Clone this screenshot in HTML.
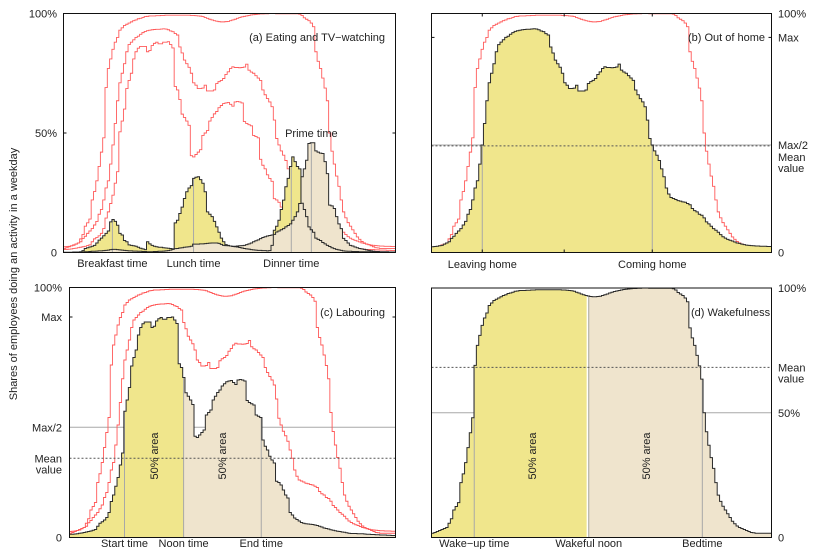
<!DOCTYPE html>
<html lang="en">
<head>
<meta charset="utf-8">
<title>Shares of employees doing an activity in a weekday</title>
<style>
html,body{margin:0;padding:0;background:#fff;}
#chart{display:block;width:830px;height:549px;}
text{font-family:"Liberation Sans",sans-serif;font-size:11px;fill:#222;}
</style>
</head>
<body>
<svg id="chart" xmlns="http://www.w3.org/2000/svg" width="830" height="549" viewBox="0 0 830 549">
<text transform="translate(17,274) rotate(-90)" text-anchor="middle">Shares of employees doing an activity in a weekday</text>
</svg>
<script>
// Ten-minute bins over the day, shares of employees in percent
const wake = [
1.7,2,2.4,2.8,3.2,3.6,4,5.7,7.5,11,
12.4,14,22,25.5,30,36,42,48,69,77,
81,85,88,90,93,94,95,95.5,96,96.5,
97,97.3,97.8,98,98.3,98.7,98.8,99,99,99,
99.1,99.1,99.2,99.2,99.3,99.3,99.3,99.3,99.3,99.3,
99.3,99.3,99.3,99.3,99.3,99.2,99.2,99.1,99,98.9,
98.7,98.3,98,97.6,97.3,97,96.8,96.6,96.5,96.5,
96.6,96.7,97,97.3,97.6,98,98.3,98.6,98.8,99,
99.2,99.4,99.5,99.6,99.7,99.8,99.8,99.9,99.9,100,
100,100,99.9,99.9,99.9,99.9,99.9,99.9,99.9,99.9,
99.9,99.9,99.7,99.2,98.2,97.6,97,96,94.5,84,
80,77,73,68.8,63.5,50,42.4,37,32,27.7,
22,17,14.5,12.5,11,9.5,8,6.5,5.5,4.6,
4,3.6,3.2,2.8,2.4,2,1.9,1.7,1.7,1.7,
1.7,1.7,1.7,1.7];
const outOfHome = [
2.4,2.5,2.6,2.8,3,3.5,4,4.5,5.9,6.8,
8,9,10,11.5,13,16,18,22,27,30,
37,45,54,63.5,71,75,79,84,87,88,
89,90,90.5,91.3,92,92.5,92.8,93,93.2,93.3,
93.4,93.4,93.5,93.6,93.5,93.2,92.7,92.4,91.6,91,
86,83.5,80.5,79,77.5,75,71,70,68.6,68.6,
68.8,70,67.6,67.6,67.6,68,70.7,71.5,72,72.8,
74.5,75.6,77,77.7,77.4,77.4,77.3,77.4,77.6,78.8,
76.3,75.5,75,74,73,72,68,66,64.4,63,
61,55.4,47.7,45,42.5,40.7,38.5,35,31.7,27,
24.5,23,22.6,22.2,21.7,21.5,21.2,21,20.5,20,
18.4,17.5,17,16,15.6,14.5,12.8,12,11,10,
9.3,8.5,7.5,6.6,6,5.5,5.1,4.8,4.4,4,
3.8,3.5,3.3,3.1,3,2.9,2.8,2.7,2.7,2.6,
2.6,2.6,2.5,2.5];
const labour = [
1.3,1.3,1.4,1.5,1.7,1.8,2,2.2,2.4,2.6,
2.9,3.2,4.5,5.7,6.3,7,8,10,14.4,17,
20.5,24,29,33.8,50.5,55,60,68.6,72,75,
81,84,85.5,86.2,86.2,86.2,84,84.5,86.6,87.5,
88,87.3,87.3,88,88,88.2,87,85.6,69.5,68,
64,57.9,56.5,55,53.2,40.5,40,41,42,43,
49,50,51,55,56.5,58,59,60.6,61.5,62.3,
62.6,62.8,62,61.2,63,63.2,63,62.6,54.8,54,
53.5,53,49,48.5,48,39,36.5,35,32.5,31,
29.8,22.5,22,21,19,17,15.8,10,9,7.8,
7.2,6.6,6,5.7,5.5,5.4,5.3,5.2,5,4.8,
4.5,4.2,3.8,3.6,3.4,3.1,2.9,2.7,2.5,2.4,
2.2,2.1,1.9,1.7,1.6,1.6,1.6,1.5,1.5,1.5,
1.4,1.3,1.3,1.2,1.2,1.1,1.1,1,1,1,
0.9,0.9,0.8,0.8];
const eating = [
0.1,0.1,0.1,0.1,0.2,0.2,0.2,0.3,0.8,1.7,
2,2.3,2.6,3,4,5.2,6,7,8,9,
12.8,13.8,13,11.4,8,7.3,5,4.5,3.2,3,
2.8,2.6,2.2,1.8,1.5,1.2,4.5,3.6,3,2.6,
2.4,2.2,2.2,2,1.9,1.8,1.7,1.5,12.4,13.5,
16.3,19,22.6,25.4,27,28,31,31.5,31.7,30.5,
29,25.4,17,16,15,13,10.7,8.5,6,4.5,
3.3,3,2.7,2.5,2.4,2.3,2.1,1.9,1.7,1.5,
1.4,1.2,1.1,1,0.9,0.9,0.8,0.8,0.7,0.8,
3,9.3,11,13.5,18,21.9,27.5,31,36,40,
38,36,35,20.6,18,15,10.7,9.5,8.5,6,
5.5,5,4.2,3.6,3,2.5,2,1.6,1.3,1.1,
0.9,0.7,0.6,0.5,0.5,0.4,0.4,0.4,0.3,0.3,
0.3,0.3,0.3,0.2,0.2,0.2,0.2,0.2,0.2,0.2,
0.2,0.2,0.2,0.2];
const television = [
0,0,0,0,0,0,0,0.2,0.2,0.3,
0.3,0.4,0.5,0.5,0.6,0.7,0.7,0.8,0.9,1,
1.2,1.3,1.3,1.2,1.1,1,0.9,0.8,0.7,0.7,
0.6,0.6,0.5,0.5,0.4,0.4,0.3,0.3,0.3,0.4,
0.4,0.5,0.5,0.6,0.7,0.8,1,1.3,1.6,1.7,
1.9,2,2.2,2.3,2.4,2.6,3.5,3.5,3.5,3.6,
3.6,3.7,3.8,3.9,4,4,4,3.8,3.4,3,
2.9,2.8,2.7,2.6,2.6,2.7,2.8,2.9,3,3.3,
3.6,4,4.5,4.9,5.3,5.8,6.3,6.6,6.9,7.1,
7.3,7.6,8.6,9,9.5,10,10.7,11.3,12,13.5,
15,17,20.5,31.7,35,38.6,45.6,45.9,45.9,42.5,
42,41.6,41.4,38,33,19.8,19.5,18.4,15,12,
10,5.9,5,4,3,2.7,2.3,2,1.7,1.5,
1.3,1.1,0.9,0.7,0.5,0.4,0.4,0.3,0.3,0.3,
0.3,0.2,0.2,0.2];

// Marker times (bin index) and reference levels (percent)
const mealBins = [21.2, 56.4, 98.8];
const mealLabels = ['Breakfast time', 'Lunch time', 'Dinner time'];
const primeBin = [107.5];
const homeBins = [21.5, 93.5];
const homeMidBin = [56.2];
const homeLabels = ['Leaving home', 'Coming home'];
const labourBins = [24.3, 50.4, 84.7];
const labourLabels = ['Start time', 'Noon time', 'End time'];
const wakeBins = [18.1, 66.6, 114.7];
const wakeLabels = ['Wake\u2212up time', 'Wakeful noon', 'Bedtime'];
const homeLevels = [90, 45, 44.6];
const labourLevels = [88.2, 44.1, 31.7];
const wakeLevels = [50, 68.2];
const ticksA = [0, 50, 100];
const ticksALabels = ['0', '50%', '100%'];
const ticksB = [0, 45, 90, 100];
const ticksBLabels = ['0', 'Max/2', 'Max', '100%'];
const ticksC = [0, 44.1, 88.2, 100];
const ticksCLabels = ['0', 'Max/2', 'Max', '100%'];
const ticksD = [0, 50, 100];
const ticksDLabels = ['0', '50%', '100%'];

const svg = document.getElementById('chart');
const NS = 'http://www.w3.org/2000/svg';
const BINS = 144;
const YELLOW = '#f0e68c', BEIGE = '#efe4cd', RED = '#ff5a5a', DARK = '#2a2a2a', GRAY = '#a8a8a8';

function panel(left, right, top, bottom) {
  return {
    left: left, right: right, top: top, bottom: bottom,
    x: function (bin) { return left + (right - left) * bin / BINS; },
    y: function (v) { return bottom - (bottom - top) * v / 100; }
  };
}
function stepLine(p, values, from, to) {
  let d = '';
  for (let i = from; i < to; i++) {
    d += (i === from ? 'M' : 'L') + p.x(i).toFixed(2) + ' ' + p.y(values[i]).toFixed(2);
    d += 'L' + p.x(i + 1).toFixed(2) + ' ' + p.y(values[i]).toFixed(2);
  }
  return d;
}
function drawCurve(p, values, name, color, width) {
  const el = document.createElementNS(NS, 'path');
  
  
  el.setAttribute('d', stepLine(p, values, 0, BINS));
  el.setAttribute('fill', 'none');
  el.setAttribute('stroke', color);
  el.setAttribute('stroke-width', width);
  svg.appendChild(el);
}
function drawArea(p, values, fromBin, toBin, name, color) {
  const start = Math.floor(fromBin), end = Math.ceil(toBin);
  let d = 'M' + p.x(fromBin).toFixed(2) + ' ' + p.bottom;
  for (let i = start; i < end; i++) {
    const a = Math.max(i, fromBin), b = Math.min(i + 1, toBin);
    d += 'L' + p.x(a).toFixed(2) + ' ' + p.y(values[i]).toFixed(2);
    d += 'L' + p.x(b).toFixed(2) + ' ' + p.y(values[i]).toFixed(2);
  }
  d += 'L' + p.x(toBin).toFixed(2) + ' ' + p.bottom + 'Z';
  const el = document.createElementNS(NS, 'path');
  
  
  el.setAttribute('d', d);
  el.setAttribute('fill', color);
  svg.appendChild(el);
}
function drawLine(x1, y1, x2, y2, name, color, width, dash) {
  const el = document.createElementNS(NS, 'line');
  
  
  el.setAttribute('x1', x1);
  el.setAttribute('y1', y1);
  el.setAttribute('x2', x2);
  el.setAttribute('y2', y2);
  el.setAttribute('stroke', color);
  el.setAttribute('stroke-width', width);
  if (dash) el.setAttribute('stroke-dasharray', dash);
  svg.appendChild(el);
}
function drawText(x, y, str, name, anchor, rotate) {
  const el = document.createElementNS(NS, 'text');
  
  
  if (rotate) {
    el.setAttribute('transform', 'translate(' + x + ',' + y + ') rotate(-90)');
  } else {
    el.setAttribute('x', x);
    el.setAttribute('y', y);
  }
  el.setAttribute('text-anchor', anchor);
  el.textContent = str;
  svg.appendChild(el);
}
function drawFrame(p, name) {
  const el = document.createElementNS(NS, 'rect');
  
  
  el.setAttribute('x', p.left);
  el.setAttribute('y', p.top);
  el.setAttribute('width', p.right - p.left);
  el.setAttribute('height', p.bottom - p.top);
  el.setAttribute('fill', 'none');
  el.setAttribute('stroke', '#111');
  el.setAttribute('stroke-width', 1);
  svg.appendChild(el);
}
function marker(p, bin, values, name) {
  const v = values[Math.min(BINS - 1, Math.floor(bin))];
  drawLine(p.x(bin), p.bottom, p.x(bin), p.y(v), name, GRAY, 1);
}
function yLabels(p, ticks, labels, x, anchor, prefix) {
  ticks.forEach(function (v, i) {
    drawText(x, p.y(v) + 4, labels[i], prefix + '-tick-label-' + i, anchor);
  });
}
function xLabels(p, bins, labels, y, prefix) {
  bins.forEach(function (b, i) {
    drawText(p.x(b), y, labels[i], prefix + '-time-label-' + i, 'middle');
  });
}
function yTick(p, v, name) {
  drawLine(p.left, p.y(v), p.left + 3, p.y(v), name + '-left', '#111', 1);
  drawLine(p.right - 3, p.y(v), p.right, p.y(v), name + '-right', '#111', 1);
}
function xTick(p, bin, name) {
  drawLine(p.x(bin), p.top, p.x(bin), p.top + 3, name + '-top', '#111', 1);
  drawLine(p.x(bin), p.bottom - 3, p.x(bin), p.bottom, name + '-bottom', '#111', 1);
}

/* Panel (a): eating and TV-watching. Fills cover the envelope lines. */
const pa = panel(63.5, 395.5, 13.5, 252.5);
drawCurve(pa, wake, 'a-wakefulness-line', RED, 0.9);
drawCurve(pa, outOfHome, 'a-out-of-home-line', RED, 0.9);
drawCurve(pa, labour, 'a-labouring-line', RED, 0.9);
drawArea(pa, eating, 0, BINS, 'eating-area', YELLOW);
drawArea(pa, television, 0, BINS, 'tv-area', BEIGE);
mealBins.forEach(function (b, i) { marker(pa, b, eating, 'meal-marker-' + i); });
primeBin.forEach(function (b) { marker(pa, b, television, 'prime-time-marker'); });
drawCurve(pa, television, 'tv-line', DARK, 1);
drawCurve(pa, eating, 'eating-line', DARK, 1);
yTick(pa, 50, 'a-tick-50');
drawFrame(pa, 'panel-a-frame');
yLabels(pa, ticksA, ticksALabels, 57, 'end', 'a');
xLabels(pa, mealBins, mealLabels, 267, 'a');
drawText(385, 41, '(a) Eating and TV\u2212watching', 'panel-a-title', 'end');
drawText(pa.x(primeBin[0]), 137, 'Prime time', 'prime-time-label', 'middle');

/* Panel (b): out of home */
const pb = panel(431.5, 771.5, 13.5, 252.5);
drawLine(pb.left, pb.y(homeLevels[1]), pb.right, pb.y(homeLevels[1]), 'b-half-max-line', GRAY, 1);
drawCurve(pb, wake, 'b-wakefulness-line', RED, 0.9);
drawArea(pb, outOfHome, 0, BINS, 'out-of-home-area', YELLOW);
homeBins.forEach(function (b, i) { marker(pb, b, outOfHome, 'home-marker-' + i); });
drawCurve(pb, outOfHome, 'out-of-home-line', DARK, 1);
drawLine(pb.left, pb.y(homeLevels[2]), pb.right, pb.y(homeLevels[2]), 'b-mean-line', '#555', 1, '2 2');
yTick(pb, homeLevels[0], 'b-tick-max');
homeBins.concat(homeMidBin).forEach(function (b, i) { xTick(pb, b, 'b-x-tick-' + i); });
drawFrame(pb, 'panel-b-frame');
yLabels(pb, ticksB, ticksBLabels, 778, 'start', 'b');
drawText(778, pb.y(homeLevels[2]) + 15, 'Mean', 'b-mean-label', 'start');
drawText(778, pb.y(homeLevels[2]) + 26, 'value', 'b-value-label', 'start');
xLabels(pb, homeBins, homeLabels, 268, 'b');
drawText(688, 41, '(b) Out of home', 'panel-b-title', 'start');

/* Panel (c): labouring */
const pc = panel(69.5, 395.5, 287.5, 537.5);
drawLine(pc.left, pc.y(labourLevels[1]), pc.right, pc.y(labourLevels[1]), 'c-half-max-line', GRAY, 1);
drawCurve(pc, wake, 'c-wakefulness-line', RED, 0.9);
drawCurve(pc, outOfHome, 'c-out-of-home-line', RED, 0.9);
drawArea(pc, labour, 0, labourBins[1], 'labour-first-half-area', YELLOW);
drawArea(pc, labour, labourBins[1], BINS, 'labour-second-half-area', BEIGE);
labourBins.forEach(function (b, i) { marker(pc, b, labour, 'labour-marker-' + i); });
drawCurve(pc, labour, 'labour-line', DARK, 1);
drawLine(pc.left, pc.y(labourLevels[2]), pc.right, pc.y(labourLevels[2]), 'c-mean-line', '#555', 1, '2 2');
yTick(pc, labourLevels[0], 'c-tick-max');
drawFrame(pc, 'panel-c-frame');
yLabels(pc, ticksC, ticksCLabels, 62, 'end', 'c');
drawText(62, pc.y(labourLevels[2]) + 4, 'Mean', 'c-mean-label', 'end');
drawText(62, pc.y(labourLevels[2]) + 15, 'value', 'c-value-label', 'end');
xLabels(pc, labourBins, labourLabels, 547, 'c');
drawText(385, 316, '(c) Labouring', 'panel-c-title', 'end');
drawText(158, 456, '50% area', 'c-area-label-first', 'middle', true);
drawText(226, 456, '50% area', 'c-area-label-second', 'middle', true);

/* Panel (d): wakefulness */
const pd = panel(431.5, 771.5, 288, 537.5);
drawLine(pd.left, pd.y(wakeLevels[0]), pd.right, pd.y(wakeLevels[0]), 'd-fifty-percent-line', GRAY, 1);
drawArea(pd, wake, 0, wakeBins[1], 'wake-first-half-area', YELLOW);
drawArea(pd, wake, wakeBins[1], BINS, 'wake-second-half-area', BEIGE);
drawLine(pd.x(wakeBins[1]) - 1.3, pd.bottom, pd.x(wakeBins[1]) - 1.3, pd.y(wake[66]), 'wakeful-noon-gap', '#fff', 1.6);
wakeBins.forEach(function (b, i) { marker(pd, b, wake, 'wake-marker-' + i); });
drawCurve(pd, wake, 'wakefulness-line', DARK, 1);
drawLine(pd.left, pd.y(wakeLevels[1]), pd.right, pd.y(wakeLevels[1]), 'd-mean-line', '#555', 1, '2 2');
drawFrame(pd, 'panel-d-frame');
yLabels(pd, ticksD, ticksDLabels, 778, 'start', 'd');
drawText(778, pd.y(wakeLevels[1]) + 4, 'Mean', 'd-mean-label', 'start');
drawText(778, pd.y(wakeLevels[1]) + 15, 'value', 'd-value-label', 'start');
xLabels(pd, wakeBins, wakeLabels, 547, 'd');
drawText(691, 316, '(d) Wakefulness', 'panel-d-title', 'start');
drawText(536, 456, '50% area', 'd-area-label-first', 'middle', true);
drawText(650, 456, '50% area', 'd-area-label-second', 'middle', true);
</script>
</body>
</html>
